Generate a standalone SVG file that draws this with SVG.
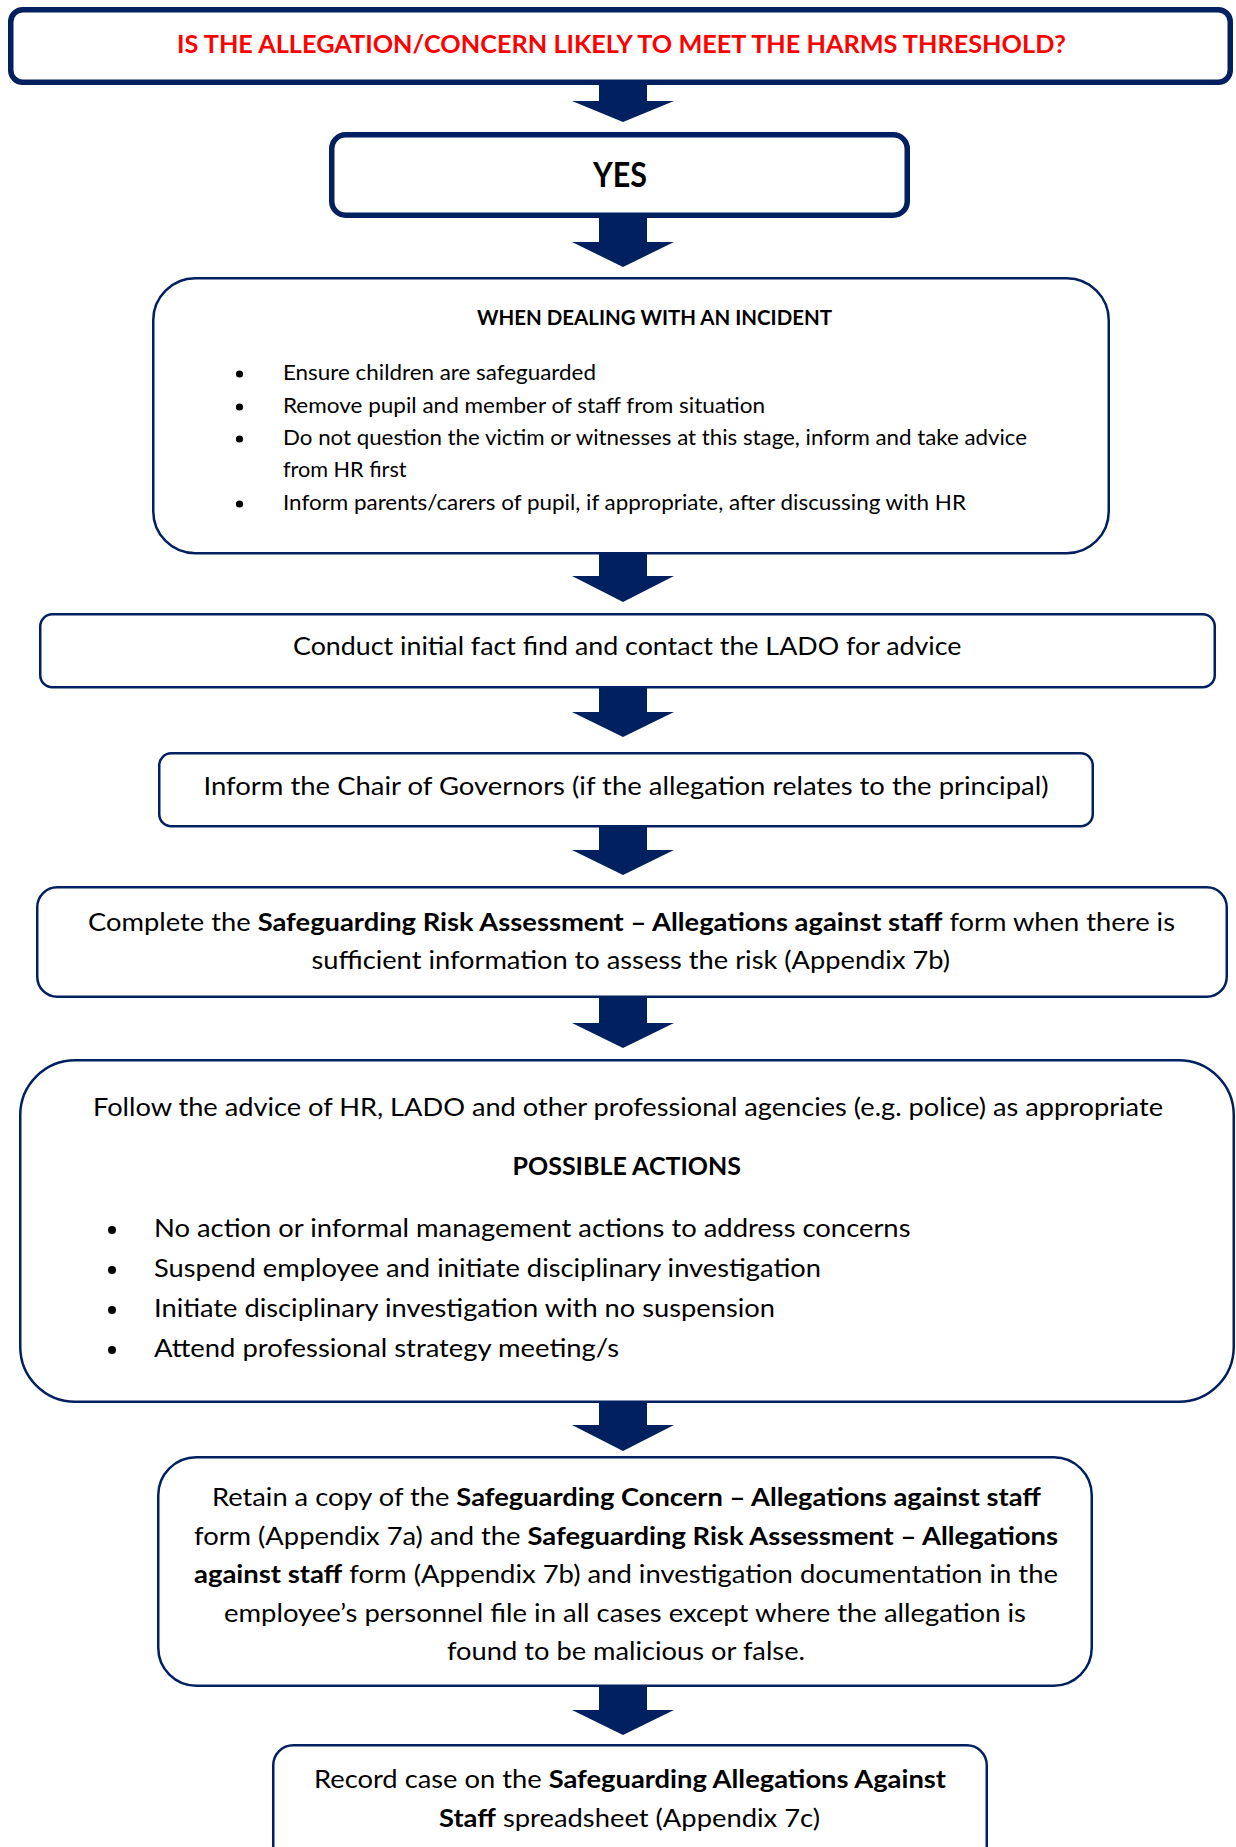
<svg xmlns="http://www.w3.org/2000/svg" width="1236" height="1847" viewBox="0 0 1236 1847">
<style>
.t{font-family:Lato,"Open Sans","Liberation Sans",sans-serif;fill:#000;font-size:24.5px}
.b{font-weight:700}
.s{font-size:21.5px}
.box{fill:#fff;stroke:#002060;stroke-width:2.5}
.thick{stroke-width:5.5}
.arrow{fill:#002060}
.dot{fill:#000}
</style>
<rect width="1236" height="1847" fill="#fff"/>

<g id="n1">
<rect class="box thick" x="10.75" y="9.75" width="1219.5" height="72.5" rx="12"/>
<text class="t b" x="177" y="53" font-size="25.5" fill="#ff0000" style="fill:#ff0000" textLength="889" lengthAdjust="spacingAndGlyphs">IS THE ALLEGATION/CONCERN LIKELY TO MEET THE HARMS THRESHOLD?</text>
</g>

<g id="n2">
<rect class="box thick" x="331.75" y="134.75" width="575.5" height="80.5" rx="14"/>
<text class="t b" x="593" y="187" style="font-size:33.5px" textLength="54" lengthAdjust="spacingAndGlyphs">YES</text>
</g>

<g id="n3">
<rect class="box" x="153.25" y="278.25" width="955.5" height="275" rx="42"/>
<text class="t b" x="477" y="325" style="font-size:21px" textLength="355" lengthAdjust="spacingAndGlyphs">WHEN DEALING WITH AN INCIDENT</text>
<circle class="dot" cx="239.5" cy="374" r="3.6"/>
<text class="t s" x="283" y="380" textLength="313" lengthAdjust="spacingAndGlyphs">Ensure children are safeguarded</text>
<circle class="dot" cx="239.5" cy="407" r="3.6"/>
<text class="t s" x="283" y="413" textLength="482" lengthAdjust="spacingAndGlyphs">Remove pupil and member of staff from situation</text>
<circle class="dot" cx="239.5" cy="439" r="3.6"/>
<text class="t s" x="283" y="445" textLength="744" lengthAdjust="spacingAndGlyphs">Do not question the victim or witnesses at this stage, inform and take advice</text>
<text class="t s" x="283" y="477" textLength="123.5" lengthAdjust="spacingAndGlyphs">from HR first</text>
<circle class="dot" cx="239.5" cy="504" r="3.6"/>
<text class="t s" x="283" y="510" textLength="683" lengthAdjust="spacingAndGlyphs">Inform parents/carers of pupil, if appropriate, after discussing with HR</text>
</g>

<g id="n4">
<rect class="box" x="40.25" y="614.25" width="1174.5" height="73" rx="12"/>
<text class="t" x="293" y="655" textLength="668.5" lengthAdjust="spacingAndGlyphs">Conduct initial fact find and contact the LADO for advice</text>
</g>

<g id="n5">
<rect class="box" x="159.25" y="753.25" width="933.5" height="73" rx="12"/>
<text class="t" x="203.5" y="795" textLength="845" lengthAdjust="spacingAndGlyphs">Inform the Chair of Governors (if the allegation relates to the principal)</text>
</g>

<g id="n6">
<rect class="box" x="37.25" y="887.25" width="1189.5" height="109.5" rx="20"/>
<text class="t" x="88" y="931" textLength="1087" lengthAdjust="spacingAndGlyphs">Complete the <tspan class="b">Safeguarding Risk Assessment – Allegations against staff</tspan> form when there is</text>
<text class="t" x="311.5" y="969" textLength="638.5" lengthAdjust="spacingAndGlyphs">sufficient information to assess the risk (Appendix 7b)</text>
</g>

<g id="n7">
<rect class="box" x="20.25" y="1060.25" width="1213.5" height="341.5" rx="55"/>
<text class="t" x="93" y="1116" textLength="1070" lengthAdjust="spacingAndGlyphs">Follow the advice of HR, LADO and other professional agencies (e.g. police) as appropriate</text>
<text class="t b" x="512.5" y="1175" textLength="228.5" lengthAdjust="spacingAndGlyphs">POSSIBLE ACTIONS</text>
<circle class="dot" cx="112" cy="1230" r="4"/>
<text class="t" x="154" y="1237" textLength="756.5" lengthAdjust="spacingAndGlyphs">No action or informal management actions to address concerns</text>
<circle class="dot" cx="112" cy="1270" r="4"/>
<text class="t" x="154" y="1277" textLength="667" lengthAdjust="spacingAndGlyphs">Suspend employee and initiate disciplinary investigation</text>
<circle class="dot" cx="112" cy="1310" r="4"/>
<text class="t" x="154" y="1317" textLength="621" lengthAdjust="spacingAndGlyphs">Initiate disciplinary investigation with no suspension</text>
<circle class="dot" cx="112" cy="1350" r="4"/>
<text class="t" x="154" y="1357" textLength="465" lengthAdjust="spacingAndGlyphs">Attend professional strategy meeting/s</text>
</g>

<g id="n8">
<rect class="box" x="158.25" y="1457.25" width="933.5" height="228.5" rx="38"/>
<text class="t" x="212" y="1506" textLength="829" lengthAdjust="spacingAndGlyphs">Retain a copy of the <tspan class="b">Safeguarding Concern – Allegations against staff</tspan></text>
<text class="t" x="194" y="1545" textLength="864" lengthAdjust="spacingAndGlyphs">form (Appendix 7a) and the <tspan class="b">Safeguarding Risk Assessment – Allegations</tspan></text>
<text class="t" x="194" y="1583" textLength="864" lengthAdjust="spacingAndGlyphs"><tspan class="b">against staff</tspan> form (Appendix 7b) and investigation documentation in the</text>
<text class="t" x="224" y="1622" textLength="802" lengthAdjust="spacingAndGlyphs">employee’s personnel file in all cases except where the allegation is</text>
<text class="t" x="447" y="1660" textLength="358" lengthAdjust="spacingAndGlyphs">found to be malicious or false.</text>
</g>

<g id="n9">
<rect class="box" x="273.25" y="1745.25" width="713.5" height="140" rx="20"/>
<text class="t" x="314" y="1788" textLength="632" lengthAdjust="spacingAndGlyphs">Record case on the <tspan class="b">Safeguarding Allegations Against</tspan></text>
<text class="t" x="439" y="1827" textLength="381" lengthAdjust="spacingAndGlyphs"><tspan class="b">Staff</tspan> spreadsheet (Appendix 7c)</text>
</g>

<g id="connectors">
<path class="arrow" d="M599,85 H647 V101 H674 L623,122 L572,101 H599 Z"/>
<path class="arrow" d="M599,218 H647 V242 H674 L623,267 L572,242 H599 Z"/>
<path class="arrow" d="M599,554 H647 V576 H674 L623,602 L572,576 H599 Z"/>
<path class="arrow" d="M599,688 H647 V712 H674 L623,737 L572,712 H599 Z"/>
<path class="arrow" d="M599,827 H647 V850 H674 L623,875 L572,850 H599 Z"/>
<path class="arrow" d="M599,998 H647 V1023 H674 L623,1048 L572,1023 H599 Z"/>
<path class="arrow" d="M599,1403 H647 V1425 H674 L623,1451 L572,1425 H599 Z"/>
<path class="arrow" d="M599,1687 H647 V1710 H674 L623,1735 L572,1710 H599 Z"/>
</g>
</svg>
